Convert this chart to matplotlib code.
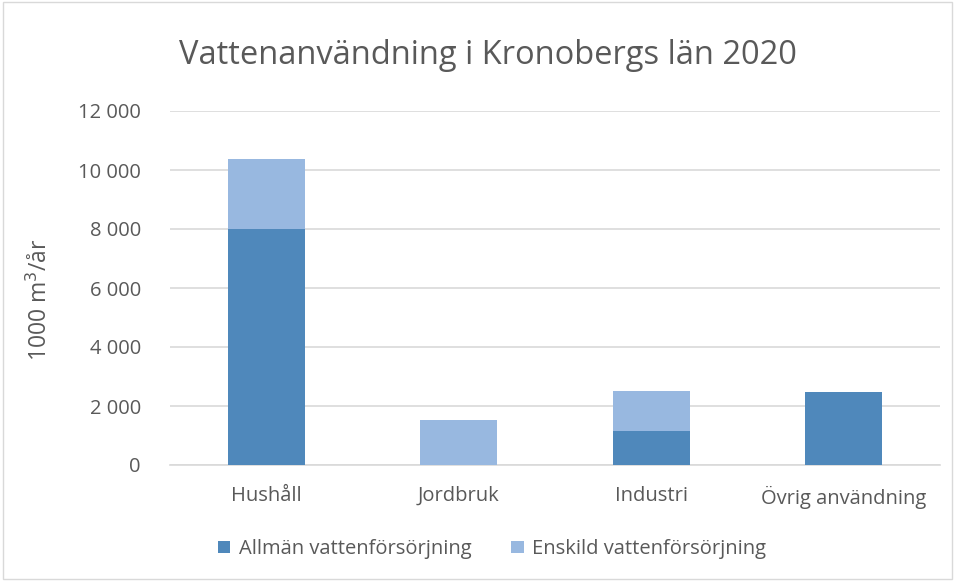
import matplotlib
matplotlib.use("Agg")
import matplotlib.pyplot as plt
import numpy as np
from matplotlib.ticker import FuncFormatter

categories = ["Hushåll", "Jordbruk", "Industri", "Övrig användning"]
allman = [8000, 0, 1150, 2460]
enskild = [2370, 1515, 1370, 0]
series_names = ["Allmän vattenförsörjning", "Enskild vattenförsörjning"]
yticks = [0, 2000, 4000, 6000, 8000, 10000, 12000]

plt.rcParams['font.family'] = ['Open Sans', 'DejaVu Sans']
txt = '#595959'
c1 = '#4f88bb'
c2 = '#98b8e0'

fig = plt.figure(figsize=(9.55, 5.81), dpi=100)
ax = fig.add_axes([170/955, 1-465/581, 770/955, 354/581])
x = np.arange(len(categories))
w = 0.4
ax.bar(x, allman, w, color=c1, label=series_names[0], zorder=3)
ax.bar(x, enskild, w, bottom=allman, color=c2, label=series_names[1], zorder=3)
ax.set_xlim(-0.5, len(categories) - 0.5)
ax.set_ylim(0, 12000)
ax.set_yticks(yticks)
ax.yaxis.set_major_formatter(FuncFormatter(lambda v, p: f"{int(v):,}".replace(",", " ")))
ax.set_xticks(x)
ax.set_xticklabels(categories)
ax.grid(axis='y', color='#d9d9d9', linewidth=1.2, zorder=0)
for s in ['top', 'right', 'left']:
    ax.spines[s].set_visible(False)
ax.spines['bottom'].set_color('#d9d9d9')
ax.spines['bottom'].set_linewidth(1.2)
ax.tick_params(axis='y', length=0, labelsize=14.5, colors=txt, pad=21)
ax.tick_params(axis='x', length=0, labelsize=14.5, colors=txt, pad=15)
fig.text(40/955, 1-300/581, "1000 m$^3$/år", rotation=90, ha='center', va='center',
         fontsize=16.5, color=txt)
fig.text(488/955, 1-56/581, "Vattenanvändning i Kronobergs län 2020", ha='center', va='center',
         fontsize=23.5, color=txt)
leg = fig.legend(loc='center', bbox_to_anchor=(492/955, 1-549/581), ncol=2, frameon=False,
                 fontsize=14.5, handlelength=0.6, handleheight=0.6, columnspacing=2.0, handletextpad=0.4)
for t in leg.get_texts():
    t.set_color(txt)
border = plt.Rectangle((0.003, 0.003), 0.994, 0.994, transform=fig.transFigure, fill=False,
                       edgecolor='#d9d9d9', linewidth=1)
fig.add_artist(border)
fig.savefig("out.png", dpi=100)
